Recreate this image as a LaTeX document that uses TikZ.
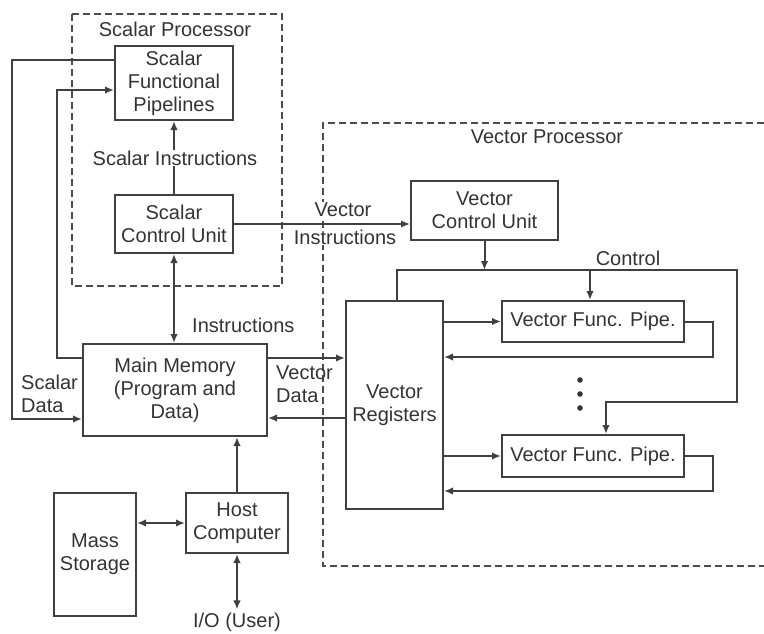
\documentclass[tikz,border=0pt]{standalone}
\usepackage{fontspec}
\setmainfont{Liberation Sans}
\usetikzlibrary{arrows.meta}
\begin{document}
\begin{tikzpicture}[x=1pt,y=-1pt,
  font=\fontsize{20}{23}\selectfont,
  every node/.style={text=black!80},
  box/.style={draw=black!75,line width=2pt,align=center,inner sep=2pt},
  conn/.style={draw=black!75,line width=2pt},
  arr/.style={conn,-{Latex[length=9pt,width=7.5pt]}},
  dbl/.style={conn,{Latex[length=9pt,width=7.5pt]}-{Latex[length=9pt,width=7.5pt]}},
  region/.style={draw=black!70,line width=1.4pt,dash pattern=on 7pt off 4pt},
  lbl/.style={inner sep=1pt,align=center},
  wlbl/.style={lbl,fill=white}]
\useasboundingbox (0,0) rectangle (764,633);
% regions
\draw[region] (72,14) rectangle (282,286);
\draw[region] (764,123) -- (323,123) -- (323,566) -- (764,566);
\node[lbl] (sptitle) at (175,29) {Scalar Processor};
\node[lbl] (vptitle) at (547,137) {Vector Processor};
% boxes
\node[box,minimum width=118pt,minimum height=74pt] (sfp) at (174,83) {Scalar\\Functional\\Pipelines};
\node[box,minimum width=118pt,minimum height=58pt] (scu) at (174,224) {Scalar\\Control Unit};
\node[box,minimum width=184pt,minimum height=92pt] (mm) at (175,390) {Main Memory\\(Program and\\Data)};
\node[box,minimum width=102pt,minimum height=60pt] (hc) at (237,523) {Host\\Computer};
\node[box,minimum width=82pt,minimum height=123pt] (ms) at (95,554.5) {Mass\\Storage};
\node[box,minimum width=147pt,minimum height=59pt] (vcu) at (484.5,210.5) {Vector\\Control Unit};
\node[box,minimum width=97pt,minimum height=208pt] (vr) at (394.5,405) {Vector\\Registers};
\node[box,minimum width=182pt,minimum height=41pt] (vfp1) at (593,321.5) {Vector Func. Pipe.};
\node[box,minimum width=182pt,minimum height=42pt] (vfp2) at (593,456) {Vector Func. Pipe.};
\node[lbl,inner ysep=0pt] (io) at (237,622) {I/O (User)};
\coordinate (cR) at (737,270);
\coordinate (cB) at (606,402);
% connectors
\draw[arr] (scu.north) -- (sfp.south);
\node[wlbl] (sitext) at (175,158) {Scalar Instructions};
\draw[arr] (scu.east) -- (scu.east -| vcu.west);
\node[wlbl] (vitext1) at (343,210) {Vector};
\node[wlbl] (vitext2) at (345,237) {Instructions};
\draw[arr] ([yshift=23pt]sfp.west) -- ++(-102,0) |- ([yshift=-29pt]mm.west);
\draw[arr] ([yshift=32pt]mm.west) -- ++(-25,0) |- ([yshift=-7pt]sfp.west);
\node[lbl,align=left,anchor=west] (sdtext) at (20,394) {Scalar\\Data};
\draw[dbl] (scu.south) -- (scu.south |- mm.north);
\node[lbl,anchor=west] (itext) at (191,325) {Instructions};
\draw[arr] ([yshift=32pt]mm.east) -- ([yshift=32pt]mm.east -| vr.west);
\draw[arr] ([yshift=-28pt]mm.east -| vr.west) -- ([yshift=-28pt]mm.east);
\node[lbl,align=left,anchor=west] (vdtext) at (275,384) {Vector\\Data};
\draw[arr] (hc.north) -- (hc.north |- mm.south);
\draw[dbl] (hc.west -| ms.east) -- (hc.west);
\draw[dbl] (hc.south) -- ([yshift=3pt]io.north);
% vector control
\draw[arr] (vcu.south) -- (vcu.south |- cR);
\draw[arr] ([xshift=2.5pt]vr.north) |- (cR) |- (cB) -- (cB |- vfp2.north);
\draw[arr] ([xshift=-3pt]vfp1.north |- cR) -- ([xshift=-3pt]vfp1.north);
\node[lbl] (ctext) at (628,258) {Control};
\draw[arr] (vfp1.west -| vr.east) -- (vfp1.west);
\draw[arr] (vfp1.east) -- ++(28,0) |- ([yshift=48pt]vr.east);
\draw[arr] (vfp2.west -| vr.east) -- (vfp2.west);
\draw[arr] (vfp2.east) -- ++(28,0) |- ([yshift=-86pt]vr.east);
% dots
\fill[black!80] (580,380) circle (2.8pt) (580,394) circle (2.8pt) (580,408) circle (2.8pt);
\end{tikzpicture}
\end{document}
